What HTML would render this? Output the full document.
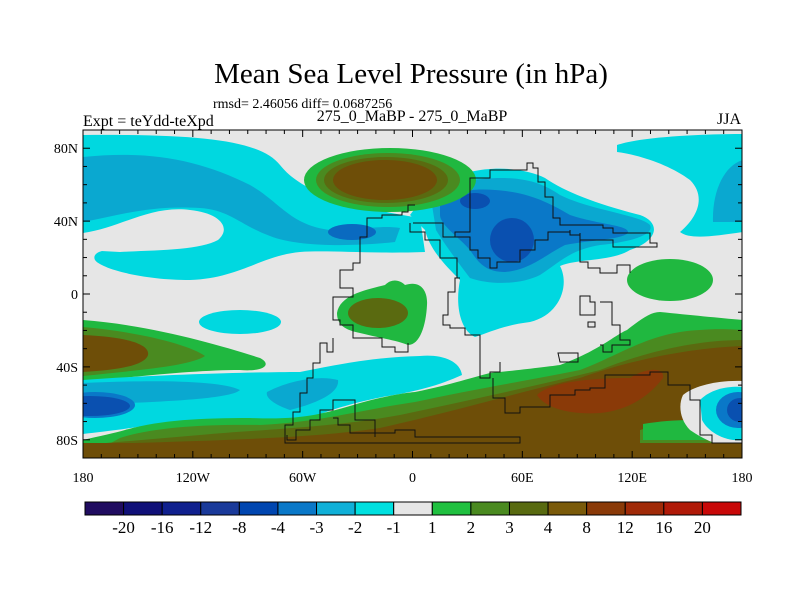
<!DOCTYPE html>
<html><head><meta charset="utf-8"><style>
body{margin:0;background:#fff;}
svg{display:block;font-family:"Liberation Serif",serif;}
</style></head><body>
<svg id="chart" width="800" height="600" viewBox="0 0 800 600">
<text x="411" y="83" text-anchor="middle" font-size="29">Mean Sea Level Pressure (in hPa)</text>
<text x="213" y="108" font-size="14">rmsd= 2.46056 diff= 0.0687256</text>
<text x="83" y="126" font-size="16">Expt = teYdd-teXpd</text>
<text x="412" y="121" text-anchor="middle" font-size="16">275_0_MaBP - 275_0_MaBP</text>
<text x="741" y="124" text-anchor="end" font-size="16">JJA</text>
<defs><clipPath id="clip"><rect x="83" y="130" width="659" height="328"/></clipPath></defs>
<g clip-path="url(#clip)">
<rect x="83" y="130" width="659" height="328" fill="#e6e6e6"/>
<!-- NW cyan band -->
<path fill="#00d8e0" d="M83,135 C200,134 260,140 280,165 C300,190 340,205 420,218 L425,252 C370,254 330,250 300,252 C260,256 240,278 190,280 C140,280 100,268 95,260 C92,254 100,250 110,250 L83,246 Z"/>
<path fill="#e6e6e6" d="M83,233 C120,228 150,205 190,210 C220,213 232,228 218,240 C200,250 160,250 120,252 L83,250 Z"/>
<path fill="#0aa8d0" d="M83,157 C150,150 200,160 250,185 C280,202 290,225 330,230 C360,230 380,225 400,228 L395,242 C360,246 300,248 270,236 C240,225 230,210 200,208 C150,205 120,215 83,222 Z"/>
<ellipse cx="352" cy="232" rx="24" ry="8" fill="#0a6ac0"/>
<!-- NE cyan -->
<path fill="#00d8e0" d="M617,145 C640,137 700,134 743,134 L743,232 C715,236 690,240 680,232 C700,215 705,195 690,180 C670,165 640,155 617,152 Z"/>
<path fill="#0aa8d0" d="M743,160 C725,165 712,190 713,222 L743,222 Z"/>
<!-- Asia low -->
<path fill="#00d8e0" d="M410,215 C425,195 445,175 470,172 C500,165 530,170 545,178 C565,192 600,205 640,215 C660,222 660,240 630,250 C610,262 580,258 560,266 C570,285 560,315 530,322 C505,325 490,332 475,337 C460,330 455,305 460,280 C445,265 430,250 425,230 Z"/>
<path fill="#0aa8d0" d="M432,205 C440,185 470,178 500,178 C530,178 545,185 560,195 C590,210 640,215 650,225 C655,235 630,242 600,245 C570,250 560,262 540,275 C520,285 490,285 470,278 C460,265 445,245 436,230 Z"/>
<path fill="#0a78c8" d="M440,205 C445,192 470,188 495,190 C525,192 545,200 570,215 C600,225 630,225 628,233 C620,240 590,240 565,245 C545,255 530,270 505,272 C485,272 478,262 470,250 C460,238 440,225 440,215 Z"/>
<ellipse cx="512" cy="240" rx="22" ry="22" fill="#0a50b0"/>
<ellipse cx="475" cy="201" rx="15" ry="8" fill="#0a50b0"/>
<!-- NW high -->
<ellipse cx="390" cy="180" rx="86" ry="32" fill="#20b840"/>
<ellipse cx="388" cy="180" rx="72" ry="27" fill="#4a8a20"/>
<ellipse cx="386" cy="180" rx="62" ry="23" fill="#5a6a10"/>
<ellipse cx="385" cy="180" rx="52" ry="20" fill="#6e4e08"/>
<!-- mid green -->
<path fill="#20b840" d="M337,313 C340,295 365,290 385,285 C392,278 400,280 405,285 C420,280 428,290 427,305 C426,325 420,345 408,345 C395,340 380,338 360,333 C345,330 337,325 337,313 Z"/>
<ellipse cx="378" cy="313" rx="30" ry="15" fill="#5a6a10"/>
<ellipse cx="240" cy="322" rx="41" ry="12" fill="#00d8e0"/>
<ellipse cx="670" cy="280" rx="43" ry="21" fill="#20b840"/>
<!-- SW high -->
<path fill="#20b840" d="M83,320 C150,325 220,345 260,358 C272,364 265,372 240,370 C200,370 150,375 83,382 Z"/>
<path fill="#4a8a20" d="M83,327 C140,332 190,345 205,356 C190,366 140,370 83,376 Z"/>
<path fill="#6e4e08" d="M83,335 C130,337 150,345 148,355 C145,365 120,370 83,372 Z"/>
<!-- south cyan band -->
<path fill="#00d8e0" d="M83,380 C150,375 250,372 300,372 C350,362 380,357 420,356 C440,354 460,360 462,375 C440,385 420,390 400,394 C360,400 330,410 310,418 C250,420 200,418 150,425 C120,430 100,432 83,434 Z"/>
<path fill="#0aa8d0" d="M83,383 C150,380 220,380 240,390 C230,400 150,402 83,405 Z"/>
<path fill="#0aa8d0" d="M267,392 C290,380 320,375 338,380 C340,395 310,405 290,410 C275,405 265,398 267,392 Z"/>
<ellipse cx="95" cy="405" rx="40" ry="13" fill="#0a78c8"/>
<ellipse cx="90" cy="406" rx="40" ry="10" fill="#0a50b0"/>
<!-- southern belt -->
<path fill="#20b840" d="M83,440 C100,436 115,433 125,430 C160,420 200,418 250,418 C300,420 320,415 360,403 C390,395 405,393 415,392 C450,385 470,378 490,373 C520,370 545,367 560,365 C600,350 615,335 627,330 C640,320 650,312 660,312 C690,315 720,318 743,320 L743,458 L83,458 Z"/>
<path fill="#4a8a20" d="M120,438 C150,428 200,424 260,425 C320,422 360,410 415,402 C470,390 530,380 580,370 C620,355 650,332 700,330 C720,328 743,330 743,330 L743,458 L83,458 Z"/>
<path fill="#5a6a10" d="M200,435 C250,430 330,428 400,415 C470,400 540,385 600,370 C650,350 700,340 743,340 L743,458 L83,458 L83,445 Z"/>
<path fill="#6e4e08" d="M83,445 C200,440 300,440 380,428 C460,410 520,392 580,378 C630,360 690,348 743,346 L743,458 L83,458 Z"/>
<path fill="#8a3a08" d="M537,395 C550,382 590,378 630,378 C645,368 665,366 663,378 C650,395 630,410 600,413 C570,415 545,408 537,395 Z"/>
<!-- SE eddy -->
<path fill="#4a8a20" d="M640,430 C680,418 700,425 743,428 L743,448 L640,448 Z"/>
<path fill="#20b840" d="M643,424 C680,418 700,420 743,423 L743,440 L643,440 Z"/>
<path fill="#e6e6e6" d="M683,395 C695,385 720,380 743,381 L743,447 C720,448 705,440 690,430 C680,420 678,405 683,395 Z"/>
<path fill="#00d8e0" d="M700,400 C712,388 730,386 743,387 L743,440 C725,442 708,432 702,420 Z"/>
<ellipse cx="738" cy="410" rx="22" ry="18" fill="#0a78c8"/>
<ellipse cx="740" cy="410" rx="13" ry="12" fill="#0a50b0"/>
<rect x="83" y="443" width="659" height="16" fill="#6e4e08"/>
<!-- continent outlines -->
<g fill="none" stroke="#111" stroke-width="1">
<path d="M415,205 L408,205 L408,212 L402,212 L402,215 L382,215 L382,218 L367,218 L367,237 L360,237 L360,263 L353,263 L353,270 L340,270 L340,288 L353,288 L353,297 L333,297 L333,320 L340,320 L340,325 L353,325 L353,338 L382,338 L382,347 L395,347 L395,352 L408,352 L408,343"/>
<path d="M333,338 L333,352 L327,352 L327,343 L320,343 L320,363 L313,363 L313,378 L307,378 L307,393 L300,393 L300,412 L293,412 L293,425 L285,425 L285,443 L520,443 L520,437 L415,437 L415,430 L395,430 L395,433 L350,433 L350,425 L338,425 L338,418 L333,418"/>
<path d="M413,223 L443,223 L443,237 L455,237 L455,232 L470,232 L470,178 L490,178 L490,170 L527,170 L527,163 L533,163 L533,168 L538,168 L538,182 L545,182 L545,197 L553,197 L553,218 L560,218 L560,225 L603,225 L603,228 L613,228 L613,233 L650,233 L650,243 L657,243 L657,247 L613,247 L613,240 L580,240 L580,235 L570,235 L570,230"/>
<path d="M455,237 L470,237 L470,250 L478,250 L478,258 L490,258 L490,268 L497,268 L497,262 L520,262 L520,250 L535,250 L535,240 L548,240 L548,232 L570,232"/>
<path d="M410,223 L410,232 L425,232 L425,240 L440,240 L440,258 L457,258 L457,278 L460,278 L460,278 L455,278 L455,292 L448,292 L448,315 L443,315 L443,325 L450,325 L450,328 L465,328 L465,335 L480,335 L480,378 L490,378 L490,372 L500,372 L500,362"/>
<path d="M580,233 L580,262 L588,262 L588,268 L600,268 L600,273 L617,273 L617,265 L630,265 L630,273"/>
<path d="M580,296 L590,296 L590,302 L595,302 L595,315 L580,315 Z M588,322 L595,322 L595,327 L588,327 Z M600,302 L612,302 L612,325 L620,325 L620,340 L630,340 L630,345 L612,345 L612,352 L603,352 L603,345 L600,345"/>
<path d="M558,353 L578,353 L578,362 L560,362 Z"/>
<path d="M493,378 L493,398 L505,398 L505,413 L520,413 L520,407 L550,407 L550,395 L575,395 L575,390 L590,390 L590,388 L605,388 L605,375 L650,375 L650,372 L668,372 L668,385 L690,385 L690,400 L700,400 L700,435 L712,435 L712,443 L742,443"/>
<path d="M287,435 L287,440 L296,440 L296,430 L310,430 L310,420 L320,420 L320,410 L333,410 L333,400 L355,400 L355,420 L375,420 L375,437"/>
</g>
</g>
<rect x="83" y="130" width="659" height="328" fill="none" stroke="#000" stroke-width="1"/>
<g id="axes"></g>
<g id="colorbar"></g>
</svg>
<script>
const levels = ["-20","-16","-12","-8","-4","-3","-2","-1","1","2","3","4","8","12","16","20"];
const levelColors = ["#200c60","#101078","#10208e","#1a3a9a","#0046b0","#0a78c8","#10b0d8","#00e0e0","#e6e6e6","#20c040","#4a8a20","#586a10","#7a5a0a","#8a3a08","#a02a08","#b01a08","#c80808"];
const lonLabels = ["180","120W","60W","0","60E","120E","180"];
const lonValues = [-180,-120,-60,0,60,120,180];
const latLabels = ["80N","40N","0","40S","80S"];
const latValues = [80,40,0,-40,-80];
const NS = "http://www.w3.org/2000/svg";
const X0=83,X1=742,Y0=130,Y1=458;
function xLon(l){return X0+(l+180)/360*(X1-X0);}
function yLat(l){return Y0+(90-l)/180*(Y1-Y0);}
function mk(tag,attrs,parent){const e=document.createElementNS(NS,tag);for(const k in attrs)e.setAttribute(k,attrs[k]);parent.appendChild(e);return e;}
const ax=document.getElementById('axes');
for(let l=-180;l<=180;l+=10){
  const len=(l%60===0)?7:4;const x=xLon(l);
  const t1=mk('line',{x1:x,x2:x,y1:Y1,y2:Y1-len,stroke:'#000'},ax);
  
  
  const t2=mk('line',{x1:x,x2:x,y1:Y0,y2:Y0+len,stroke:'#000'},ax);
  
  
}
for(let l=-90;l<=90;l+=10){
  const len=(l%40===0)?7:4;const y=yLat(l);
  const t1=mk('line',{x1:X0,x2:X0+len,y1:y,y2:y,stroke:'#000'},ax);
  
  
  const t2=mk('line',{x1:X1,x2:X1-len,y1:y,y2:y,stroke:'#000'},ax);
  
  
}
lonValues.forEach((v,i)=>{
  const t=mk('text',{x:xLon(v),y:482,'text-anchor':'middle','font-size':14},ax);
  t.textContent=lonLabels[i];
  
  
});
latValues.forEach((v,i)=>{
  const t=mk('text',{x:78,y:yLat(v)+5,'text-anchor':'end','font-size':14},ax);
  t.textContent=latLabels[i];
  
  
});
const cb=document.getElementById('colorbar');
const CX0=85,CX1=741,CY=502,CH=13;
const bw=(CX1-CX0)/levelColors.length;
levelColors.forEach((c,i)=>{
  const r=mk('rect',{x:CX0+i*bw,y:CY,width:bw,height:CH,fill:c,stroke:'#000','stroke-width':1},cb);
  
  
});
levels.forEach((s,i)=>{
  const t=mk('text',{x:CX0+(i+1)*bw,y:533,'text-anchor':'middle','font-size':17},cb);
  t.textContent=s;
  
  
});
</script>
</body></html>
